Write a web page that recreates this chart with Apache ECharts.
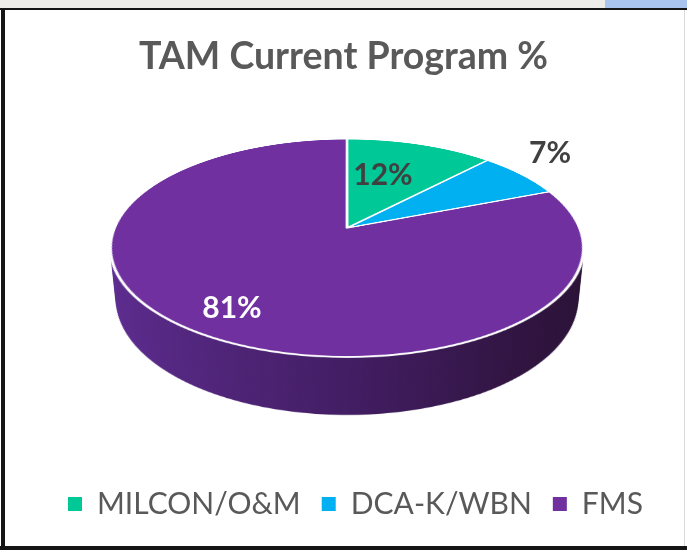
<!DOCTYPE html>
<html><head><meta charset="utf-8">
<script src="https://cdn.jsdelivr.net/npm/echarts@6/dist/echarts.min.js"></script>
<style>
html,body{margin:0;padding:0;width:687px;height:550px;overflow:hidden;background:#fff;}
#stage{position:absolute;left:0;top:0;width:687px;height:550px;}
.layer{position:absolute;transform-origin:50% 50%;}
#overlay{position:absolute;left:0;top:0;width:687px;height:550px;}
.deco{position:absolute;}
</style></head><body>
<div id="stage"></div>
<div id="overlay"></div>
<div class="deco" style="left:0;top:0;width:687px;height:8px;background:#eeede9"></div>
<div class="deco" style="left:605px;top:0;width:82px;height:8px;background:#a8c4ef"></div>
<div class="deco" style="left:0;top:8px;width:687px;height:2px;background:#151515"></div>
<div class="deco" style="left:1px;top:8px;width:4px;height:542px;background:#151515"></div>
<div class="deco" style="left:0;top:546px;width:687px;height:4px;background:#151515"></div>
<div class="deco" style="left:684px;top:10px;width:1px;height:536px;background:#d9d9d9"></div>
<script>
// ---- data ----
const categories = ['MILCON/O&M', 'DCA-K/WBN', 'FMS'];
const values = [12, 7, 81];
const title = 'TAM Current Program %';

// ---- styles ----
const topColors = ['#00C896', '#00B0F0', '#7030A0'];
const sideColors = ['#006a50', '#005d80', null];
const CX = 347, CY = 228, R = 232.5, TILT = 63.07, PERSP = 1130, DEPTH = 58, STEP = 2;
const S = 500;
const stage = document.getElementById('stage');

function makeLayer(z) {
  const d = document.createElement('div');
  d.className = 'layer';
  d.style.left = (CX - S / 2) + 'px';
  d.style.top = (CY - S / 2) + 'px';
  d.style.width = S + 'px';
  d.style.height = S + 'px';
  d.style.transform = 'perspective(' + PERSP + 'px) rotateX(' + TILT + 'deg) translateZ(' + (-z) + 'px)';
  stage.appendChild(d);
  return echarts.init(d, null, { renderer: 'canvas', devicePixelRatio: 2 });
}

const sideFMS = {
  type: 'linear', global: true, x: S / 2 - R, y: 0, x2: S / 2 + R, y2: 0,
  colorStops: [
    { offset: 0, color: '#5e2d91' },
    { offset: 0.5, color: '#431e64' },
    { offset: 0.8, color: '#321543' },
    { offset: 1, color: '#2a1236' }
  ]
};

function pieSeries(colorsFor, border) {
  return {
    type: 'pie', silent: true, animation: false,
    radius: R, center: ['50%', '50%'], startAngle: 90, clockwise: true,
    label: { show: false }, labelLine: { show: false },
    itemStyle: border ? { borderColor: '#ffffff', borderWidth: 2.8 } : { borderWidth: 0 },
    data: categories.map((n, i) => ({ name: n, value: values[i], itemStyle: { color: colorsFor(i) } }))
  };
}

// side wall: stacked layers from bottom up
for (let z = DEPTH; z >= STEP; z -= STEP) {
  const c = makeLayer(z);
  c.setOption({ animation: false, series: [pieSeries(i => i === 2 ? sideFMS : sideColors[i], false)] });
}
// top face
const topChart = makeLayer(0);
topChart.setOption({ animation: false, series: [pieSeries(i => topColors[i], true)] });

// overlay: title, legend, data labels
const labelPos = [[383, 175], [550, 153], [232, 308]];
const labelColor = ['#404040', '#404040', '#ffffff'];
const ov = echarts.init(document.getElementById('overlay'), null, { renderer: 'canvas' });
ov.setOption({
  animation: false,
  title: {
    text: title, left: 'center', top: 33,
    textStyle: { fontFamily: 'Lato', fontWeight: 'bold', fontSize: 37.5, color: '#595959' }
  },
  legend: {
    left: 63, top: 484, icon: 'rect', itemWidth: 14, itemHeight: 14, itemGap: 21,
    selectedMode: false,
    textStyle: { fontFamily: 'Lato', fontSize: 30, color: '#595959', padding: [0, 0, 0, 10] },
    data: categories
  },
  series: [{
    type: 'pie', silent: true, radius: 0, center: [-100, -100],
    label: { show: false }, labelLine: { show: false },
    data: categories.map((n, i) => ({ name: n, value: values[i], itemStyle: { color: topColors[i] } }))
  }],
  graphic: values.map((v, i) => ({
    type: 'text', x: labelPos[i][0], y: labelPos[i][1], silent: true,
    style: {
      text: v + '%', fill: labelColor[i], align: 'center', verticalAlign: 'middle',
      font: 'bold 30px Lato'
    }
  }))
});
</script>
</body></html>
